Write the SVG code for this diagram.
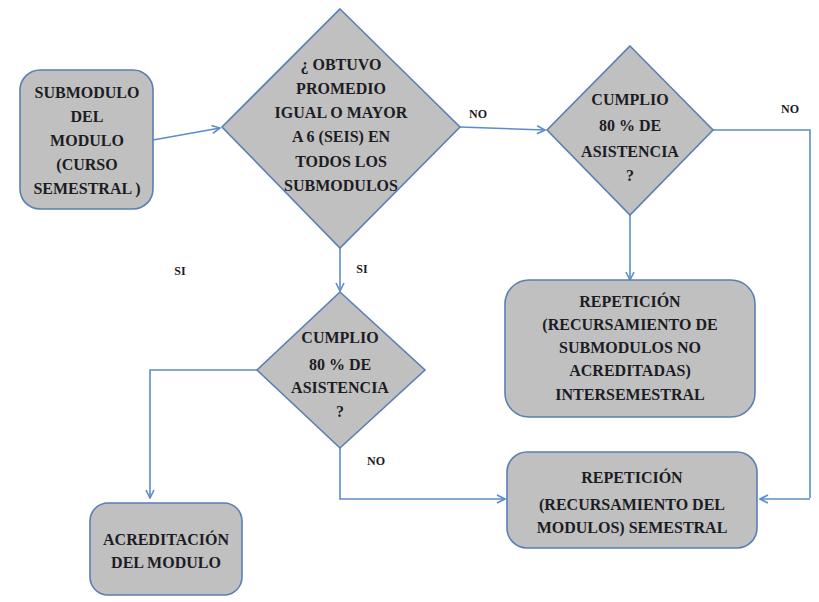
<svg xmlns="http://www.w3.org/2000/svg" width="819" height="602" viewBox="0 0 819 602">
<defs>
<marker id="arr" viewBox="0 0 10 10" refX="9" refY="5" markerWidth="10" markerHeight="10" markerUnits="userSpaceOnUse" orient="auto">
<polyline points="1,1 9,5 1,9" fill="none" stroke="#5b8ccc" stroke-width="1.6"/>
</marker>
<style>
.shape{fill:#c0c0c0;stroke:#5a7fb2;stroke-width:1.6}
.t{font-family:'Liberation Serif','Tinos','DejaVu Serif',serif;font-weight:bold;font-size:16px;fill:#1c1c24;text-anchor:middle}
.lbl{font-family:'Liberation Serif','Tinos','DejaVu Serif',serif;font-weight:bold;font-size:12px;fill:#1c1c24;text-anchor:middle}
.c{fill:none;stroke:#5b8ccc;stroke-width:1.6}
</style>
</defs>
<rect width="819" height="602" fill="#ffffff"/>
<g id="connectors">
<line class="c" x1="153" y1="140" x2="220" y2="128" marker-end="url(#arr)"/>
<line class="c" x1="460" y1="127" x2="545" y2="130" marker-end="url(#arr)"/>
<polyline class="c" points="713,130 810,130 810,498"/>
<line class="c" x1="810" y1="499" x2="760" y2="499" marker-end="url(#arr)"/>
<line class="c" x1="630" y1="215" x2="630" y2="280" marker-end="url(#arr)"/>
<line class="c" x1="340" y1="248" x2="340" y2="291" marker-end="url(#arr)"/>
<polyline class="c" points="257,370 150,370 150,498" marker-end="url(#arr)"/>
<polyline class="c" points="340,448 340,499 505,499" marker-end="url(#arr)"/>
<text class="lbl" x="478" y="118">NO</text>
<text class="lbl" x="790" y="113">NO</text>
<text class="lbl" x="362" y="273">SI</text>
<text class="lbl" x="180" y="275">SI</text>
<text class="lbl" x="376" y="465">NO</text>
</g>
<g id="n1">
<rect class="shape" x="20" y="70" width="133" height="139" rx="20"/>
<text class="t" x="87" y="98">SUBMODULO</text>
<text class="t" x="87" y="122">DEL</text>
<text class="t" x="87" y="146">MODULO</text>
<text class="t" x="87" y="170"> (CURSO</text>
<text class="t" x="87" y="194">SEMESTRAL )</text>
</g>
<g id="d1">
<polygon class="shape" points="340,9 460,127 340,248 222,127"/>
<text class="t" x="341" y="70">¿ OBTUVO</text>
<text class="t" x="341" y="94">PROMEDIO</text>
<text class="t" x="341" y="118">IGUAL O MAYOR</text>
<text class="t" x="341" y="142">A  6 (SEIS) EN</text>
<text class="t" x="341" y="167">TODOS LOS</text>
<text class="t" x="341" y="191">SUBMODULOS</text>
</g>
<g id="d2">
<polygon class="shape" points="630,46 713,130 630,215 547,130"/>
<text class="t" x="630" y="105">CUMPLIO</text>
<text class="t" x="630" y="131">80 % DE</text>
<text class="t" x="630" y="157">ASISTENCIA</text>
<text class="t" x="630" y="181">?</text>
</g>
<g id="n2">
<rect class="shape" x="505" y="280" width="250" height="137" rx="24"/>
<text class="t" x="630" y="307">REPETICIÓN</text>
<text class="t" x="630" y="330">(RECURSAMIENTO DE</text>
<text class="t" x="630" y="353">SUBMODULOS NO</text>
<text class="t" x="630" y="376">ACREDITADAS)</text>
<text class="t" x="630" y="400">INTERSEMESTRAL</text>
</g>
<g id="d3">
<polygon class="shape" points="340,292 425,370 340,448 257,370"/>
<text class="t" x="340" y="343">CUMPLIO</text>
<text class="t" x="340" y="370">80 % DE</text>
<text class="t" x="340" y="393">ASISTENCIA</text>
<text class="t" x="340" y="417">?</text>
</g>
<g id="n3">
<rect class="shape" x="90" y="503" width="152" height="92" rx="18"/>
<text class="t" x="166" y="545">ACREDITACIÓN</text>
<text class="t" x="166" y="568">DEL MODULO</text>
</g>
<g id="n4">
<rect class="shape" x="507" y="452" width="250" height="96" rx="20"/>
<text class="t" x="632" y="483">REPETICIÓN</text>
<text class="t" x="632" y="510">(RECURSAMIENTO DEL</text>
<text class="t" x="632" y="533">MODULOS)  SEMESTRAL</text>
</g>
</svg>
